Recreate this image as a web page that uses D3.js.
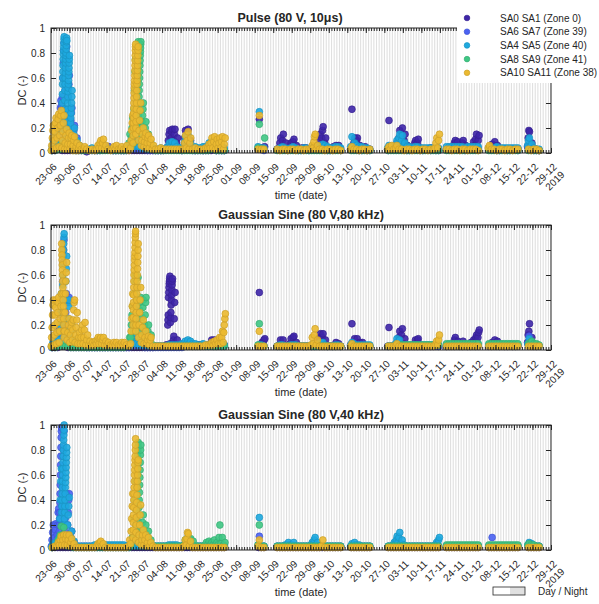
<!DOCTYPE html>
<html>
<head>
<meta charset="UTF-8">
<script src="https://cdn.jsdelivr.net/npm/d3@7"></script>
<style>
  body { margin: 0; background: #fff; }
  text { font-family: "Liberation Sans", Arial, sans-serif; fill: #262626; }
</style>
</head>
<body>
<script>
  // Measurement campaign 2019, day 0 = 23-06. Readings are DC in percent,
  // one entry per measured day; an array entry holds all readings of that day.
  var segments = [[0, 65], [78, 80], [85, 109], [113, 120], [127, 146], [149, 161], [165, 176], [180, 184]];

  var seriesNames = ["SA0 SA1 (Zone 0)", "SA6 SA7 (Zone 39)", "SA4 SA5 (Zone 40)", "SA8 SA9 (Zone 41)", "SA10 SA11 (Zone 38)"];
  var seriesColors = ["#3e26a8", "#4a62f2", "#1ea9df", "#3fc784", "#ebb930"];
  var panelTitles = ["Pulse (80 V, 10\u03bcs)", "Gaussian Sine (80 V,80 kHz)", "Gaussian Sine (80 V,40 kHz)"];
  var yTicks = [0, 0.2, 0.4, 0.6, 0.8, 1];

  // ---- Pulse (80 V, 10us) ----
  var pulse_sa0 = [
    [2,2,3,3,[2,4],[2,4],[2,4],[2,4],3,2,
     2,2,2,1,2,2,2,2,2,3,
     [3,4],[3,5],3,2,2,2,2,2,2,2,
     2,2,2,2,2,2,2,2,2,2,
     2,2,2,3,[5,10,15,18],[6,12,17,19],[5,10,15,19],[4,8,12],3,2,
     [5,12,18],[6,14,19],[4,10],3,2,2,3,2,2,2,
     2,3,2,2,2,2],
    [[3,27],[3,4],[3,5]],
    [3,[4,8,12],[5,10,15],[4,8],3,[4,8],[5,9,11],[4,6],3,[3,4],[3,4],4,3,3,3,[3,6],[4,10,15],[5,12,18,21],[4,8,12],4,3,[3,5],[4,6],[4,6],3],
    [[3,35],[4,8,12],[5,10,12],[4,6],3,[3,5],3,3],
    [[3,26],3,4,[4,8],[5,12,18],[6,14,20],[5,10,15],[4,6],3,3,[4,8,10],[4,8,11],4,3,3,3,4,3,3,3],
    [3,3,4,[4,8,10],[4,9],4,[4,8,10],[4,6],3,4,[5,9],[6,11,15],[5,10,14]],
    [4,[4,7],[5,9],[4,6],3,3,3,3,3,3,3,3],
    [[5,12,18,17],[4,8],3,3,2]
  ];
  var pulse_sa6 = [
    [[2,6],[3,8,14],[4,12,20,28],[8,18,28,36,42,38],[15,30,45,60,72,82,88],[20,35,50,62,72,80,85],[15,25,35,45,55,62],[10,18,26,32,36],[6,12,18,22],[4,8,12],
     [3,5],3,3,2,2,3,2,2,3,3,
     [3,5],[3,5],3,2,2,3,2,2,3,3,
     3,[3,6],[3,6],[3,6],3,3,2,2,2,2,
     2,2,3,3,4,4,4,4,3,2,
     3,3,3,2,2,3,2,2,3,3,
     3,3,2,3,2,2],
    [3,3,2],
    [3,3,3,3,2,3,3,3,2,2,3,3,2,3,3,3,3,3,3,2,2,3,3,3,2],
    [3,3,3,2,2,3,2,2],
    [2,3,3,3,3,3,3,2,2,3,3,3,2,2,3,3,2,3,2,2],
    [3,3,3,3,3,3,3,2,3,3,3,3,3],
    [3,3,3,2,2,3,3,2,2,3,3,2],
    [3,3,2,2,2]
  ];
  var pulse_sa4 = [
    [[2,5,10],[3,8,14],[4,10,18],[5,10,18,28],
     [10,18,25,32,40,47,55,60,65,70,75,79,82,85,88,91,93],
     [20,28,35,42,50,55,60,64,68,72,75,78,80,83,86,89,92,90],
     [15,20,25,30,35,40,45,49,52,55,58,62,65,68,72,75,78],
     [8,12,16,20,24,28,32,36,40,45,50],[5,10,15,20],[4,7,10],
     [3,6],4,3,3,3,4,3,3,3,4,
     4,3,3,3,3,3,3,3,3,[3,5],
     [4,8],[5,10],[6,10],[5,8],4,4,3,3,4,3,
     3,4,3,4,[5,8],[5,9],[5,8],5,4,4,
     [5,9,13],[6,10,14],[5,8],4,5,4,4,5,5,[5,8],
     [5,9],[6,10],[5,8],5,5,4],
    [[5,33],4,4],
    [3,4,5,4,3,4,5,4,3,3,4,4,3,4,5,5,6,[5,7],6,5,4,4,5,5,4],
    [[5,13],[5,8],6,5,5,4,4,3],
    [[4,6],5,5,[6,10],[6,12,15],[6,10,14],[5,8],5,5,4,5,5,4,4,4,4,4,4,4,4],
    [5,5,5,5,5,5,5,4,5,5,5,5,5],
    [4,4,4,5,4,4,4,4,4,4,4,4],
    [[6,10,12],[5,7],4,3,3]
  ];
  var pulse_sa8 = [
    [2,2,3,[3,6],[3,6],[3,6],3,3,2,2,
     2,2,2,2,2,2,2,2,2,2,
     2,2,2,2,2,2,2,2,2,[3,8,15],
     [5,12,20,28],[8,20,35,50,65,75],
     [20,25,30,35,40,45,50,55,60,64,68,72,76,80,83,86,89],
     [25,30,35,40,45,50,55,60,65,70,74,78,81,84,87,89],
     [15,20,25,30,35,40],[10,15,20,25],[6,10,15],[5,8],3,2,
     2,2,2,2,2,2,2,2,2,2,
     2,2,2,2,2,2,2,2,2,2,
     3,[3,10],2,2,2,2],
    [[4,23],3,[3,12]],
    [2,2,2,2,2,2,2,2,2,2,2,2,2,2,2,2,2,2,2,2,2,2,2,2,2],
    [2,2,2,2,2,2,2,2],
    [2,2,2,2,2,2,2,2,2,2,2,2,2,2,2,2,2,2,2,2],
    [2,2,2,2,2,2,2,2,2,2,2,2,2],
    [2,2,2,2,2,2,2,2,2,2,2,2],
    [2,2,2,2,2]
  ];
  var pulse_sa10 = [
    [[2,6,12,18,22],[3,10,17,24,28],[4,12,20,27,31],[5,14,22,30,34],[4,10,17,24,30],[3,8,14,19],[3,7,12,16],[3,7,12,14],[2,6,10,13],[2,5,8],
     [2,4,6],3,[3,5],3,2,3,2,[3,6],[4,8,10],[4,8,11],
     [3,6],3,2,[3,5],[3,6],3,[3,5],3,[3,6],2,
     [4,10,18,24,30],
     [8,14,20,24,28,32,36,40,44,48,52,55,58,62,66,70,74,78,82,85,87],
     [15,20,25,30,35,40,45,50,55,58,62,66,70,74,78,82,85],
     [10,18,26,34,40],[6,10,15,20],[5,9,13,16],[4,8,12,14],[4,8,11],[3,6],3,
     3,4,3,3,3,3,3,3,3,3,
     [3,8,14],[4,10,17],[3,8,12],3,4,3,3,3,4,[4,7],
     [4,8,12],[4,9,13],[3,7,11],[4,8,12],[4,9,13],[3,7,12]],
    [[3,30],3,3],
    [3,2,3,3,2,3,3,2,3,3,2,3,3,[3,6],[4,9,13,15],[3,6],3,3,2,3,3,2,3,3,2],
    [[3,5],3,3,2,3,3,2,3],
    [[3,5],[3,6],3,[4,6],3,3,2,3,3,2,3,3,2,3,3,2,3,3,[4,8,12],[4,10,15]],
    [3,3,2,3,3,2,3,3,2,3,3,3,2],
    [[4,6],3,3,2,3,3,2,3,3,2,3,3],
    [3,2,3,3,2]
  ];

  // ---- Gaussian Sine (80 V, 80 kHz) ----
  var sine80_sa0 = [
    [2,2,2,3,3,3,2,2,2,2,
     2,2,2,2,2,2,2,2,2,2,
     2,2,2,2,2,2,2,2,2,2,
     2,2,2,2,2,2,2,2,2,3,
     3,3,3,4,[4,20,24,28,42,46,50,53,55,57,59],[5,22,26,30,36,40,44,48,52,55,57],[5,8,11,25,38,46],[4,8],3,3,
     3,3,4,4,3,4,4,3,4,4,
     [4,8],[5,8],4,[4,6],4,4],
    [[3,46],[4,6],[5,8,9]],
    [3,[4,8],[4,8],3,3,[5,9],[5,10,11],[4,6],3,3,3,3,3,3,3,[4,8],[5,10,13],[5,10,13],[5,8],3,3,3,[4,6],[4,5],3],
    [[4,21],[5,9],[5,9],[4,6],[4,6],3,3,3],
    [[3,18],3,3,[4,6],[5,10,15],[6,12,17],[5,9],3,3,3,[4,8],[4,8,9],4,3,3,3,3,3,3,3],
    [3,3,4,[4,8,10],[4,7],4,[4,7],4,3,[4,6],[5,8],[5,8,10,12],[6,10,14,16]],
    [3,[4,6],[5,8],[4,7],3,3,3,3,3,3,3,3],
    [[6,12,15,21],[5,10],4,3,3]
  ];
  var sine80_sa6 = [
    [[2,5],[3,8],[4,10,15],[8,18,28,38],[20,40,55,70,80,88],[15,30,45],[20,38,42],[10,20],[4,8],3,
     3,3,3,2,2,2,2,2,2,2,
     2,2,2,2,2,2,2,2,2,2,
     3,[3,6],[3,6],3,3,2,2,2,2,2,
     2,2,2,2,2,2,2,2,2,2,
     3,3,3,3,3,3,3,3,3,3,
     3,3,3,3,3,3],
    [3,3,3],
    [3,3,3,3,3,3,3,3,3,3,3,3,3,3,3,3,3,3,3,3,3,3,3,3,3],
    [3,3,3,3,3,3,3,3],
    [3,3,3,3,3,3,3,3,3,3,3,3,3,3,3,3,3,3,3,3],
    [3,3,3,3,3,3,3,3,3,3,3,3,3],
    [3,3,3,3,3,3,3,3,3,3,3,3],
    [[5,11],4,3,3,3]
  ];
  var sine80_sa4 = [
    [[3,6],[4,10],[5,14],[8,20,30,40,45],[15,22,30,38,45,52,60,68,75,80,85,90,93],[10,25,40,55,65,75],[8,15,25,35,40],[5,10,15,20],[4,8],4,
     4,3,3,3,3,3,3,3,3,3,
     3,3,3,3,3,3,3,3,3,[3,5],
     [4,8],[5,10],[5,10],[4,8],4,4,4,3,3,3,
     3,3,3,3,4,4,4,4,4,5,
     [5,7],[5,8],[5,7],5,5,4,4,5,4,4,
     4,4,4,4,4,4],
    [4,4,3],
    [3,4,4,3,3,4,4,4,3,3,3,3,3,4,4,4,[4,6],[4,6],4,3,3,3,4,4,3],
    [[4,6],5,4,4,4,4,4,4],
    [3,3,3,[5,9],[5,8],4,4,4,4,4,4,4,4,4,4,4,4,4,4,4],
    [4,4,4,4,4,4,4,4,4,4,4,4,4],
    [4,4,4,4,4,4,4,4,4,4,4,4],
    [[5,9],6,4,4,3]
  ];
  var sine80_sa8 = [
    [2,2,3,3,4,3,3,2,2,2,
     2,2,2,2,2,2,2,2,2,2,
     2,2,2,2,2,2,2,2,3,[4,10],
     [10,20,28,35],[15,25,35,45,55,60],[20,30,40,50,58],[15,25,32,38,42],[10,18,26,34,40],[8,14,20,28,38,42],[6,10,15,20],[5,8,12],4,3,
     3,3,3,3,3,3,3,3,3,3,
     3,3,3,3,3,3,3,3,3,3,
     3,3,3,3,3,3],
    [[4,21],3,3],
    [3,3,3,3,3,3,3,3,3,3,3,3,3,3,3,3,3,3,3,3,3,3,3,3,3],
    [3,3,3,3,3,3,3,3],
    [3,3,3,3,4,4,4,4,4,4,4,4,4,4,4,4,4,4,4,4],
    [5,5,5,5,5,5,5,5,5,5,5,5,5],
    [5,5,5,5,5,5,5,5,5,5,5,5],
    [5,[6,7],5,5,4]
  ];
  var sine80_sa10 = [
    [[3,10,18,28,36,40],[4,12,20,28,34,40],[5,14,22,30,38,42],[6,15,25,35,45],
     [85,80,76,72,68,64,60,55,50,45,40,35,30,25,20,15,10],
     [15,30,45,55,62,70],[8,14,20,25],[6,12,18,22],[8,16,24,32,38,40],[6,12,18,24,30],
     [5,10,14],[5,10,16,20],[5,10,16,22],[4,8,12],[4,7],[4,6],[4,7],[5,8,10],[5,9,10],[5,8,10],
     [4,7],[4,6],4,[4,6],[4,6],4,[4,6],[4,6],4,3,
     [5,15,25,35,45],
     [20,26,32,38,44,50,55,60,64,68,72,75,78,82,86,90,93,95],
     [15,20,25,30,35,40,45,50,55,60,65,70,75,80,85],
     [10,20,30,40,50],[6,12,18,24],[5,10,15],[5,8,11],[4,8,10],3,3,
     3,3,3,3,3,3,3,3,3,3,
     3,3,3,3,3,3,3,3,4,4,
     [4,6],[4,7],[5,8],[5,10],[5,10,15],[6,14,20,25,29]],
    [[3,15],3,3],
    [3,3,3,3,3,3,3,3,3,3,3,3,3,[4,10],[5,12,17],[4,8],3,3,3,3,3,3,3,3,3],
    [[3,5],3,3,3,3,3,3,3],
    [3,3,3,[3,5],3,3,3,3,3,3,3,3,3,3,3,3,3,3,[4,7],[4,8,12]],
    [3,3,3,3,3,3,3,3,3,3,3,3,3],
    [3,3,3,3,3,3,3,3,3,3,3,3],
    [3,3,3,3,3]
  ];

  // ---- Gaussian Sine (80 V, 40 kHz) ----
  var sine40_sa0 = [
    [2,2,2,2,2,2,2,2,2,2,
     2,2,2,2,2,2,2,2,2,2,
     2,2,2,2,2,2,2,2,2,2,
     2,2,2,2,2,2,2,2,2,2,
     2,2,2,2,2,2,2,2,2,2,
     2,2,2,2,2,2,2,2,2,2,
     2,2,2,2,2,2],
    [2,2,2],
    [2,2,2,2,2,2,2,2,2,2,2,2,2,2,2,2,2,2,2,2,2,2,2,2,2],
    [2,2,2,2,2,2,2,2],
    [2,2,2,2,2,2,2,2,2,2,2,2,2,2,2,2,2,2,2,2],
    [2,2,2,2,2,2,2,2,2,2,2,2,2],
    [2,2,2,2,2,2,2,2,2,2,2,2],
    [2,2,2,2,2]
  ];
  var sine40_sa6 = [
    [[3,8,14,20],[4,10,16,21],[5,12,20,30,33],
     [10,15,20,25,30,38,45,52,60,68,75,82,90,95,98],
     [20,35,50,65,80,95],[15,25,35,45],[10,20,30,40,45],[5,10,15],[3,6],3,
     3,3,3,3,3,3,3,3,3,3,
     3,3,3,3,3,3,3,3,3,3,
     3,[3,6],[3,6],[3,6],3,3,3,3,3,3,
     3,3,3,3,3,3,3,3,3,3,
     [3,6],[4,10],[3,6],3,3,3,3,3,3,3,
     3,3,3,3,3,3],
    [[3,11],3,3],
    [3,3,3,3,3,3,3,3,3,3,3,3,3,3,3,3,3,3,3,3,3,3,3,3,3],
    [3,3,3,3,3,3,3,3],
    [3,3,3,3,3,3,3,3,3,3,3,3,3,3,3,3,3,3,3,3],
    [3,3,3,3,3,3,3,3,3,3,3,3,3],
    [3,[3,10],3,3,3,3,3,3,3,3,3,3],
    [3,3,3,3,3]
  ];
  var sine40_sa4 = [
    [[2,5],[3,6],[4,8],[10,25,40,55,65],
     [30,35,40,45,50,55,60,65,70,75,80,84,88,92,96,100],
     [20,25,30,35,40,45,50,54,58,62,66,70,74,78,82],
     [10,20,28,35,42],[5,10,15],[4,7],3,
     3,3,3,3,3,3,4,4,4,4,
     4,4,4,4,4,4,4,4,3,3,
     3,[3,5],[3,5],3,3,3,3,3,3,3,
     3,3,3,3,4,4,4,4,3,3,
     4,4,4,3,3,3,3,3,3,3,
     3,3,3,3,3,3],
    [[4,26],3,3],
    [3,3,3,4,[4,6],4,[4,6],3,3,3,3,3,3,[4,6],[5,8,10],[4,6],3,3,3,3,3,3,3,3,3],
    [[3,5],[4,6],4,4,3,3,3,3],
    [3,3,[4,6],[5,8,11],[6,10,14],[5,8],4,3,3,3,3,3,3,3,3,3,3,3,[4,6],[5,8,10]],
    [3,3,3,3,3,3,3,3,3,3,3,3,3],
    [3,3,3,3,3,3,3,3,3,3,3,3],
    [[4,6],[4,5],3,3,3]
  ];
  var sine40_sa8 = [
    [2,3,[4,8],[5,12,19],[6,12,18],[5,10],3,3,2,2,
     2,2,2,2,2,2,2,2,2,2,
     2,2,2,2,2,2,2,2,2,2,
     [4,10],[10,25,40,55],
     [20,26,32,38,44,50,56,62,67,72,76,80,83,86],
     [15,22,28,34,40,46,52,58,64,70,76,80,84],
     [10,16,22,28],[8,14,20],[5,10,15],[4,8],3,3,
     3,3,3,3,3,3,3,3,3,3,
     [4,8],[5,10],[4,8,9],[4,7],3,3,3,3,[4,6],[4,7],
     [4,6],[4,8],[4,6],[4,10,20],[5,10],[4,6]],
    [[4,20],3,3],
    [3,3,3,3,3,3,3,3,3,3,3,3,3,3,3,3,3,3,3,3,3,3,3,3,3],
    [3,3,3,3,3,3,3,3],
    [3,3,3,3,3,3,3,3,3,3,3,3,3,3,3,3,3,3,3,3],
    [4,4,4,4,4,4,4,4,4,4,4,4,4],
    [4,4,4,4,4,4,4,4,4,4,4,4],
    [[4,5],4,4,3,3]
  ];
  var sine40_sa10 = [
    [2,3,[3,6],[4,8,11],[4,8,12],[4,9,12],[4,8,12],[3,6,9],[3,5],2,
     2,2,2,2,2,2,2,[3,5],[4,6,7],[3,5],
     2,2,2,2,2,2,2,2,2,[3,8],
     [5,15,25,35,45],
     [10,16,22,28,34,40,45,50,55,60,64,68,72,75,80,84,89],
     [8,14,20,26,32,38,44,50,55,60,65,70,72],
     [6,12,20,28,36],[4,8,12,16],[4,8,12],[3,6,10],[3,6],3,2,
     2,2,2,2,2,2,2,2,2,2,
     [3,8],[4,9,14,13],[3,7],2,2,2,2,2,2,2,
     2,2,2,2,2,2],
    [[3,8],2,2],
    [2,2,2,2,2,2,2,2,2,2,2,2,2,2,2,2,2,[3,8],2,2,2,2,2,2,2],
    [2,2,2,2,2,2,2,2],
    [2,2,2,2,2,2,2,2,2,2,2,2,2,2,2,2,2,2,2,2],
    [2,2,2,2,2,2,2,2,2,2,2,2,2],
    [2,2,2,2,2,2,2,2,2,2,2,2],
    [2,2,2,2,2]
  ];

  var panels = [
    [pulse_sa0, pulse_sa6, pulse_sa4, pulse_sa8, pulse_sa10],
    [sine80_sa0, sine80_sa6, sine80_sa4, sine80_sa8, sine80_sa10],
    [sine40_sa0, sine40_sa6, sine40_sa4, sine40_sa8, sine40_sa10]
  ];

  // layout
  var width = 599, height = 604;
  var left = 51, right = 551, plotH = 125;
  var panelTops = [28, 225, 425];
  var dayMs = 864e5;
  var start = Date.UTC(2019, 5, 23);
  var end = Date.UTC(2019, 11, 29);

  var svg = d3.select("body").append("svg")
    .attr("width", width)
    .attr("height", height);

  svg.append("defs").append("clipPath").attr("id", "plotclip")
    .append("rect").attr("x", left).attr("y", 0).attr("width", right - left).attr("height", plotH);

  var x = d3.scaleUtc()
    .domain([new Date(start), new Date(end)])
    .range([left, right]);
  var y = d3.scaleLinear().domain([0, 1]).range([plotH, 0]);

  var weeks = d3.utcSunday.range(new Date(start), new Date(end + 1));
  var days = d3.utcDay.range(new Date(start), new Date(end + 1));

  // turn a series (segments of daily readings) into points
  function toPoints(series) {
    var pts = [];
    series.forEach(function(seg, s) {
      seg.forEach(function(entry, j) {
        var day = segments[s][0] + j;
        var vals = Array.isArray(entry) ? entry : [entry];
        vals.forEach(function(v, i) {
          pts.push({ t: new Date(start + (day + (i + 0.5) / vals.length) * dayMs), v: v / 100 });
        });
      });
    });
    return pts;
  }

  panels.forEach(function(panel, p) {
    var g = svg.append("g").attr("transform", "translate(0," + panelTops[p] + ")");

    // day / night stripes (night 20:00 - 06:00)
    g.append("g").attr("clip-path", "url(#plotclip)")
      .selectAll("rect")
      .data(d3.utcDay.range(new Date(start - dayMs), new Date(end + 1)))
      .enter().append("rect")
      .attr("x", function(d) { return x(new Date(+d + 20 * 36e5)); })
      .attr("width", function(d) { return x(new Date(+d + 30 * 36e5)) - x(new Date(+d + 20 * 36e5)); })
      .attr("y", 0)
      .attr("height", plotH)
      .attr("fill", "#e0e0e0");

    // scatter points, series drawn in legend order
    panel.forEach(function(series, k) {
      var c = seriesColors[k];
      g.append("g").selectAll("circle")
        .data(toPoints(series))
        .enter().append("circle")
        .attr("cx", function(d) { return x(d.t); })
        .attr("cy", function(d) { return y(d.v); })
        .attr("r", 3.4)
        .attr("fill", c)
        .attr("fill-opacity", 0.9)
        .attr("stroke", d3.color(c).darker(0.4))
        .attr("stroke-width", 0.7);
    });

    // axes on top
    var ax = g.append("g").attr("class", "axes");
    ax.append("g").attr("transform", "translate(0," + plotH + ")")
      .call(d3.axisBottom(x).tickValues(days).tickSize(-3).tickFormat(""));
    ax.append("g").attr("transform", "translate(0," + plotH + ")")
      .call(d3.axisBottom(x).tickValues(weeks).tickSize(-5).tickFormat(""));
    ax.append("g")
      .call(d3.axisTop(x).tickValues(days).tickSize(-3).tickFormat(""));
    ax.append("g")
      .call(d3.axisTop(x).tickValues(weeks).tickSize(-5).tickFormat(""));
    ax.append("g").attr("transform", "translate(" + left + ",0)")
      .call(d3.axisLeft(y).tickValues(yTicks).tickSize(-5).tickPadding(6).tickFormat(d3.format("~g")));
    ax.append("g").attr("transform", "translate(" + right + ",0)")
      .call(d3.axisRight(y).tickValues(yTicks).tickSize(-5).tickFormat(""));
    ax.selectAll(".domain").remove();
    ax.selectAll("line").attr("stroke", "#262626");
    ax.selectAll("text").attr("font-size", 10).attr("fill", "#262626")
      .attr("font-family", "Liberation Sans, Arial, sans-serif");
    ax.append("rect")
      .attr("x", left).attr("y", 0)
      .attr("width", right - left).attr("height", plotH)
      .attr("fill", "none").attr("stroke", "#262626").attr("stroke-width", 1);

    // rotated date labels
    var fmt = d3.utcFormat("%d-%m");
    var lab = g.append("g").selectAll("text")
      .data(weeks)
      .enter().append("text")
      .attr("transform", function(d) { return "translate(" + (x(d) + 4) + "," + (plotH + 12) + ") rotate(-45)"; })
      .attr("text-anchor", "end")
      .attr("font-size", 10);
    lab.append("tspan").attr("x", 0).attr("dy", "0.35em").text(fmt);
    lab.filter(function(d, i) { return i === weeks.length - 1; })
      .append("tspan").attr("x", 0).attr("dy", "1.1em").text("2019");

    // title and axis labels
    g.append("text")
      .attr("x", (left + right) / 2 + (p === 0 ? -11 : 0))
      .attr("y", -10)
      .attr("dy", "0.35em")
      .attr("text-anchor", "middle")
      .attr("font-size", 12.5)
      .attr("font-weight", "bold")
      .attr("fill", "#000")
      .text(panelTitles[p]);
    g.append("text")
      .attr("x", (left + right) / 2)
      .attr("y", plotH + 42)
      .attr("dy", "0.35em")
      .attr("text-anchor", "middle")
      .attr("font-size", 11)
      .text("time (date)");
    g.append("text")
      .attr("transform", "translate(22," + (plotH / 2) + ") rotate(-90)")
      .attr("dy", "0.35em")
      .attr("text-anchor", "middle")
      .attr("font-size", 11)
      .text("DC (-)");
  });

  // series legend
  var legend = svg.append("g").attr("class", "legend");
  legend.append("rect")
    .attr("x", 457).attr("y", 8)
    .attr("width", 142).attr("height", 75)
    .attr("fill", "#fff");
  var item = legend.selectAll("g.item")
    .data(seriesNames)
    .enter().append("g")
    .attr("class", "item")
    .attr("transform", function(d, i) { return "translate(467," + (18 + i * 13.7) + ")"; });
  item.append("circle")
    .attr("r", 2.8)
    .attr("fill", function(d, i) { return seriesColors[i]; })
    .attr("stroke", function(d, i) { return d3.color(seriesColors[i]).darker(0.4); })
    .attr("stroke-width", 0.7);
  item.append("text")
    .attr("x", 33)
    .attr("dy", "0.35em")
    .attr("font-size", 10)
    .attr("fill", "#000")
    .text(function(d) { return d; });

  // day / night legend
  var dn = svg.append("g").attr("class", "daynight");
  dn.append("rect").attr("x", 493).attr("y", 587).attr("width", 17).attr("height", 8).attr("fill", "#fff");
  dn.append("rect").attr("x", 510).attr("y", 587).attr("width", 15).attr("height", 8).attr("fill", "#e0e0e0");
  dn.append("rect").attr("x", 493).attr("y", 587).attr("width", 32).attr("height", 8)
    .attr("fill", "none").attr("stroke", "#262626").attr("stroke-width", 0.8);
  dn.append("text").attr("x", 538).attr("y", 591).attr("dy", "0.35em")
    .attr("font-size", 10).attr("fill", "#000").text("Day / Night");
</script>
</body>
</html>
